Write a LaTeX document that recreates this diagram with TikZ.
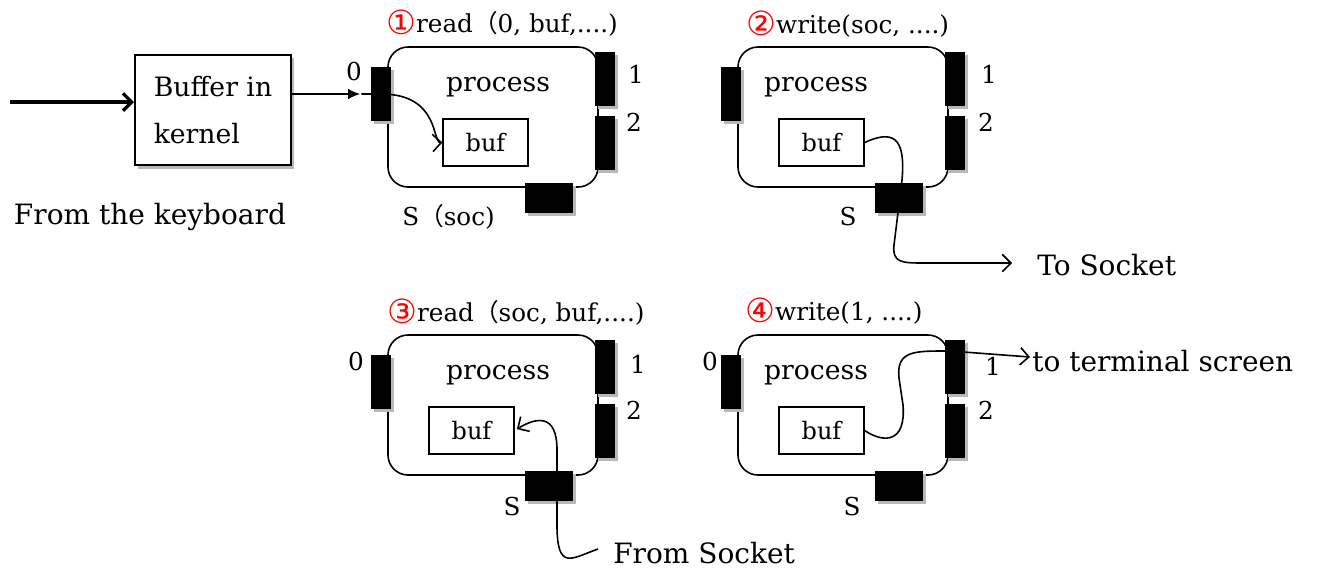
\documentclass[tikz,border=0pt]{standalone}
\usepackage{fontspec}
\setmainfont{DejaVu Serif}
\newfontfamily\cjkf{Noto Sans CJK JP}
\newfontfamily\symf{DejaVu Sans}
\usetikzlibrary{arrows.meta,shadows}
\newcommand\fsz[2]{\fontsize{#1}{#2}\selectfont}
\newcommand\cnum[1]{\textcolor{red}{\raisebox{-1.5pt}{\fsz{25pt}{25pt}\mdseries\symf #1}}}
\newcommand\fwp{{\mdseries\cjkf （}}
\begin{document}
\begin{tikzpicture}[x=0.75pt,y=-0.75pt,
  shd/.style={drop shadow={shadow xshift=2.5pt,shadow yshift=-2.5pt,fill=black!28,opacity=1}},
  proc/.style={draw,line width=1.2pt,rounded corners=15pt,minimum width=157.5pt,minimum height=105pt,inner sep=0pt},
  port/.style={fill=black,minimum width=15pt,minimum height=40.5pt,inner sep=0pt,shd},
  sport/.style={port,minimum width=36pt,minimum height=22.5pt},
  bufbox/.style={draw,line width=0.9pt,minimum width=63.75pt,minimum height=35.25pt,inner sep=0pt,font=\fsz{18pt}{20pt}},
  ptxt/.style={inner sep=0pt,font=\fsz{20pt}{22pt}},
  lbl/.style={inner sep=0pt,font=\fsz{18.5pt}{20pt}},
  ttl/.style={inner sep=0pt,anchor=west,font=\fsz{18.5pt}{20pt}},
  big/.style={inner sep=0pt,font=\fsz{21pt}{25pt}},
  kbox/.style={draw,line width=1.5pt,minimum width=117pt,minimum height=83pt,align=left,inner sep=0pt,font=\fsz{20pt}{35pt},fill=white,shd},
  flow/.style={line width=1.2pt,-{Straight Barb[length=6.5pt,width=13pt]}},
  thick arrow/.style={line width=2.4pt,-{Straight Barb[length=6.5pt,width=13pt]}},
  feed/.style={line width=1.1pt,-{Latex[length=9pt,width=8pt]}}
]
\fill[white] (0,0) rectangle (1320,569);
\useasboundingbox (0,0) rectangle (1320,569);

% ---------- keyboard ----------
\node[kbox] (kbuf) at (213,110) {Buffer in\\kernel};
\coordinate (kin) at (10,102);
\draw[thick arrow] (kin) -- (kbuf.west |- kin);
\node[big] (kbd) at (150,217) {From the keyboard};

% ---------- box 1 ----------
\node[proc] (p1) at (493,117) {};
\node[ptxt] (p1n) at (498,87) {process};
\node[bufbox] (b1) at (485.5,142.5) {buf};
\node[port] (p1z) at (381,94) {};
\node[port] (p1o) at (605,79) {};
\node[port] (p1t) at (605,143) {};
\node[sport] (p1s) at (549,198) {};
\node[lbl] (l1z) at (354,72) {0};
\node[lbl] (l1o) at (636,74) {1};
\node[lbl] (l1t) at (634,122) {2};
\node[lbl,anchor=west] (l1s) at (402,217) {S\fwp soc)};
\node[ttl] (t1) at (386,23) {\cnum{①}read\fwp 0, buf,....)};
\draw[feed,shorten >=8pt] (kbuf.east |- p1z) -- (p1z.west);
\draw[flow] ([xshift=-7pt]p1z.west) -- (p1z.center) .. controls (440,94) and (432,143) .. (b1.west);

% ---------- box 2 ----------
\node[proc] (p2) at (843,117) {};
\node[ptxt] (p2n) at (816,87) {process};
\node[bufbox] (b2) at (821.5,142.5) {buf};
\node[port] (p2z) at (730.5,94) {};
\node[port] (p2o) at (955,79) {};
\node[port] (p2t) at (955,143) {};
\node[sport] (p2s) at (899,198) {};
\node[lbl] (l2o) at (989,74) {1};
\node[lbl] (l2t) at (986,122) {2};
\node[lbl] (l2s) at (848,217) {S};
\node[ttl] (t2) at (746,24) {\cnum{②}write(soc, ....)};
\coordinate (c2end) at (1012,263);
\node[big,anchor=west] (tosock) at (1037,265) {To Socket};
\draw[flow] (b2.east) .. controls (892,130) and (906,136) .. (902,180) -- (894,245) .. controls (892,263) and (902,263) .. (925,263) -- (c2end);

% ---------- box 3 ----------
\node[proc] (p3) at (493,405) {};
\node[ptxt] (p3n) at (498,375) {process};
\node[bufbox] (b3) at (471.5,430.5) {buf};
\node[port] (p3z) at (381,382) {};
\node[port] (p3o) at (605,367) {};
\node[port] (p3t) at (605,430.5) {};
\node[sport] (p3s) at (549,486) {};
\node[lbl] (l3z) at (356,362) {0};
\node[lbl] (l3o) at (638,364) {1};
\node[lbl] (l3t) at (634,410) {2};
\node[lbl] (l3s) at (512,507) {S};
\node[ttl] (t3) at (387,312) {\cnum{③}read\fwp soc, buf,....)};
\coordinate (c3start) at (598,549);
\node[big,anchor=west] (fromsock) at (613,553) {From Socket};
\draw[flow,shorten >=2pt] (c3start) .. controls (572,558) and (557,572) .. (557,525) -- (557,450) .. controls (557,412) and (535,418) .. (b3.east);

% ---------- box 4 ----------
\node[proc] (p4) at (843,405) {};
\node[ptxt] (p4n) at (816,375) {process};
\node[bufbox] (b4) at (821.5,430.5) {buf};
\node[port] (p4z) at (730.5,382) {};
\node[port] (p4o) at (955,367) {};
\node[port] (p4t) at (955,430.5) {};
\node[sport] (p4s) at (899,486) {};
\node[lbl] (l4z) at (710,362) {0};
\node[lbl] (l4o) at (993,366) {1};
\node[lbl] (l4t) at (986,410) {2};
\node[lbl] (l4s) at (852,507) {S};
\node[ttl] (t4) at (745,311) {\cnum{④}write(1, ....)};
\coordinate (c4end) at (1030,357);
\node[big,anchor=west] (term) at (1032,361) {to terminal screen};
\draw[flow] (b4.east) .. controls (885,444) and (906,442) .. (903,405) -- (899,378) .. controls (896,350) and (915,351) .. (950,351) -- (c4end);
\end{tikzpicture}
\end{document}
